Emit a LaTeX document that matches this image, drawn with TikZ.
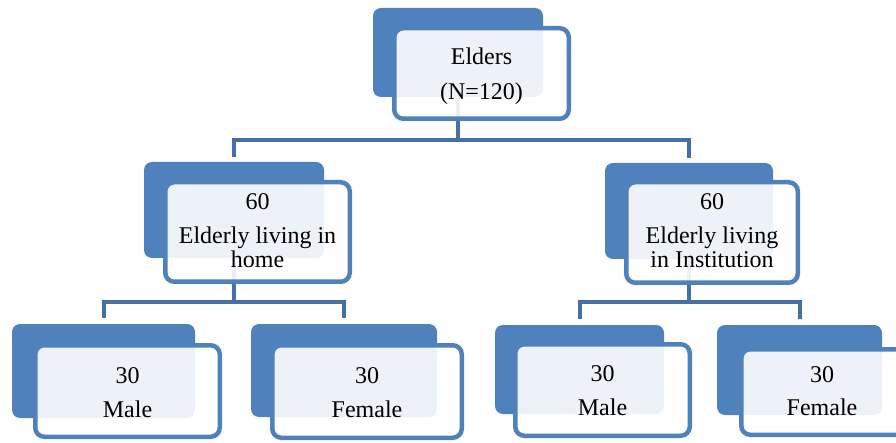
\documentclass[tikz,border=0pt]{standalone}
\usepackage{fontspec}
\setmainfont{Liberation Serif}
\definecolor{bblue}{HTML}{4F81BD}
\definecolor{cblue}{HTML}{4470A5}
\pgfdeclarelayer{bg}
\pgfsetlayers{bg,main}
\tikzset{
  backbox/.style={fill=bblue, rounded corners=8pt, inner sep=0pt, outer sep=0pt},
  frontbox/.style={draw=bblue, line width=4.5pt, fill=white, fill opacity=0.9, rounded corners=9pt, inner sep=0pt, outer sep=0pt},
  conn/.style={draw=cblue, line width=4pt},
  lbl/.style={font=\fontsize{24}{24}\selectfont, anchor=base, inner sep=0pt, text=black}
}
\begin{document}
\begin{tikzpicture}[x=1pt,y=-1pt]
\useasboundingbox (0,0) rectangle (896,443);
% top
\node[backbox, minimum width=170pt, minimum height=89pt] (topb) at (458,52.5) {};
\node[frontbox, minimum width=174.5pt, minimum height=90.5pt] (topf) at (481.5,73.5) {};
\node[lbl] (t1) at (481.5,65) {Elders};
\node[lbl] (t2) at (481.5,100) {(N=120)};
% left middle
\node[backbox, minimum width=180pt, minimum height=96pt] (lmb) at (234,210) {};
\node[frontbox, minimum width=184.5pt, minimum height=99.5pt] (lmf) at (257.5,232) {};
\node[lbl] (l1) at (257.5,210) {60};
\node[lbl] (l2) at (257.5,244) {Elderly living in};
\node[lbl] (l3) at (257.5,268) {home};
% right middle
\node[backbox, minimum width=168pt, minimum height=96pt] (rmb) at (689,211) {};
\node[frontbox, minimum width=171.5pt, minimum height=100.5pt] (rmf) at (712,232.5) {};
\node[lbl] (r1) at (712,210) {60};
\node[lbl] (r2) at (712,244) {Elderly living};
\node[lbl] (r3) at (712,268) {in Institution};
% bottom left male
\node[backbox, minimum width=183pt, minimum height=94pt] (llb) at (103.5,371) {};
\node[frontbox, minimum width=184.5pt, minimum height=91.5pt] (llf) at (127.5,391) {};
\node[lbl] (ll1) at (127.5,383) {30};
\node[lbl] (ll2) at (127.5,417) {Male};
% bottom left female
\node[backbox, minimum width=186pt, minimum height=93pt] (lrb) at (344,370.5) {};
\node[frontbox, minimum width=189.5pt, minimum height=92.5pt] (lrf) at (367,391.5) {};
\node[lbl] (lr1) at (367,383) {30};
\node[lbl] (lr2) at (367,417) {Female};
% bottom right male
\node[backbox, minimum width=169pt, minimum height=89pt] (rlb) at (579.5,369.5) {};
\node[frontbox, minimum width=174.5pt, minimum height=91.5pt] (rlf) at (602.5,390) {};
\node[lbl] (rl1) at (602.5,381) {30};
\node[lbl] (rl2) at (602.5,415) {Male};
% bottom right female
\node[backbox, minimum width=165pt, minimum height=90pt] (rrb) at (799.5,370) {};
\node[frontbox, minimum width=175.5pt, minimum height=85.5pt] (rrf) at (829,392) {};
\node[lbl] (rr1) at (822,382) {30};
\node[lbl] (rr2) at (822,415) {Female};
% connectors
\begin{pgfonlayer}{bg}
\draw[conn] (topb.south) -- ++(0,43) coordinate (j1);
\draw[conn] ([yshift=5pt]lmb.north) |- (j1) -| ([yshift=5pt]rmb.north);
\draw[conn] (lmb.south) -- ++(0,44) coordinate (j2);
\draw[conn] ([yshift=6pt]llb.north) |- (j2) -| ([yshift=6pt]lrb.north);
\draw[conn] (rmb.south) -- ++(0,43) coordinate (j3);
\draw[conn] ([yshift=6pt]rlb.north) |- (j3) -| ([yshift=6pt]rrb.north);
\end{pgfonlayer}
\end{tikzpicture}
\end{document}
